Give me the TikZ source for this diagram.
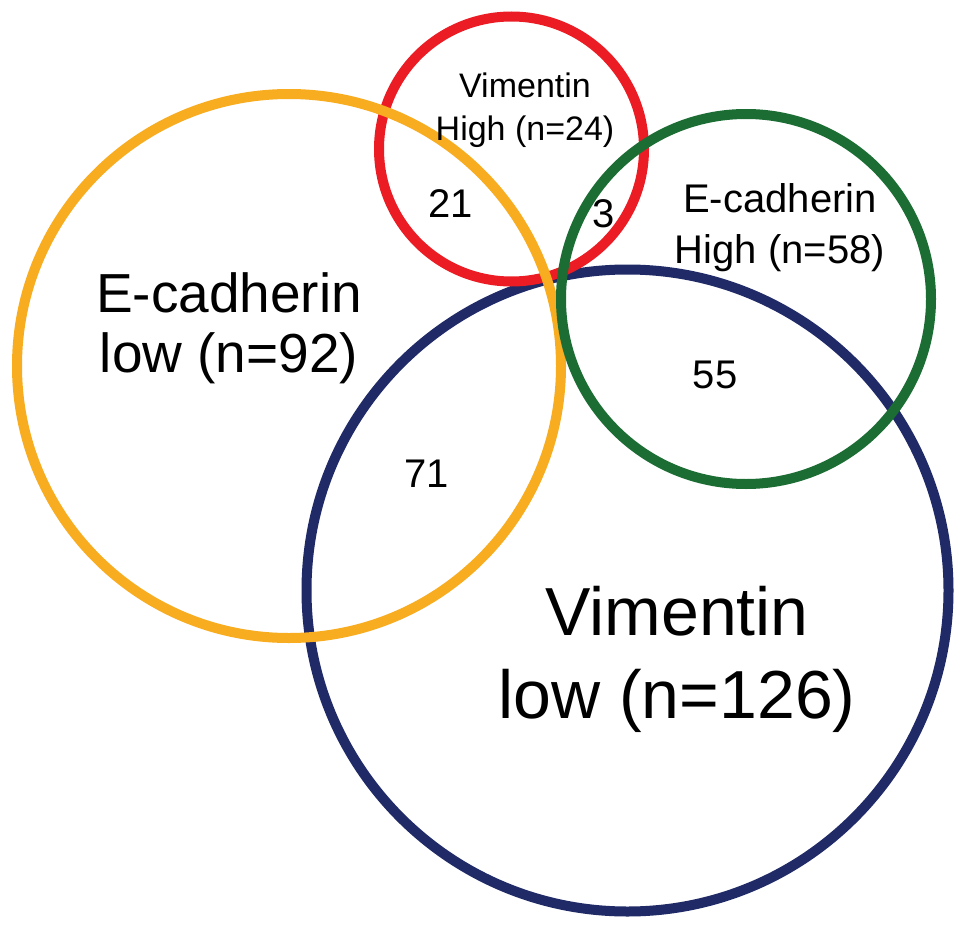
\documentclass[tikz,border=0pt]{standalone}
\usepackage{fontspec}
\setmainfont{Liberation Sans}
\definecolor{corange}{HTML}{F8AC20}
\definecolor{cred}{HTML}{EC1C24}
\definecolor{cgreen}{HTML}{1B6D33}
\definecolor{cnavy}{HTML}{1F2A66}
\tikzset{
  ring/.style={draw=#1, circle, line width=10pt, inner sep=0pt},
  lbl/.style={anchor=base, inner sep=0pt, font=\fontsize{#1}{#1}\selectfont}
}
\begin{document}
\begin{tikzpicture}[x=1pt,y=-1pt]
\useasboundingbox (0,0) rectangle (969,934);
\fill[white] (0,0) rectangle (969,934);
% circles
\node[ring=cnavy, minimum size=642pt] (vlow) at (627.5,590.5) {};
\node[ring=cred, minimum size=265pt] (vhigh) at (511.5,149) {};
\node[ring=corange, minimum size=544pt] (elow) at (289,366) {};
\node[ring=cgreen, minimum size=370pt] (ehigh) at (746,299) {};
% labels
\node[lbl=34] (vh1) at (525,97) {Vimentin};
\node[lbl=34] (vh2) at (525,140) {High (n=24)};
\node[lbl=40] (eh1) at (780,212) {E-cadherin};
\node[lbl=40] (eh2) at (780,263) {High (n=58)};
\node[lbl=55] (el1) at (229,312) {E-cadherin};
\node[lbl=55] (el2) at (229,372) {low (n=92)};
\node[lbl=68] (vl1) at (677,635) {Vimentin};
\node[lbl=68] (vl2) at (677,718) {low (n=126)};
\node[lbl=40] (n21) at (451,217) {21};
\node[lbl=40] (n3) at (604,227) {3};
\node[lbl=40] (n55) at (715,388) {55};
\node[lbl=40] (n71) at (427,487) {71};
\end{tikzpicture}
\end{document}
